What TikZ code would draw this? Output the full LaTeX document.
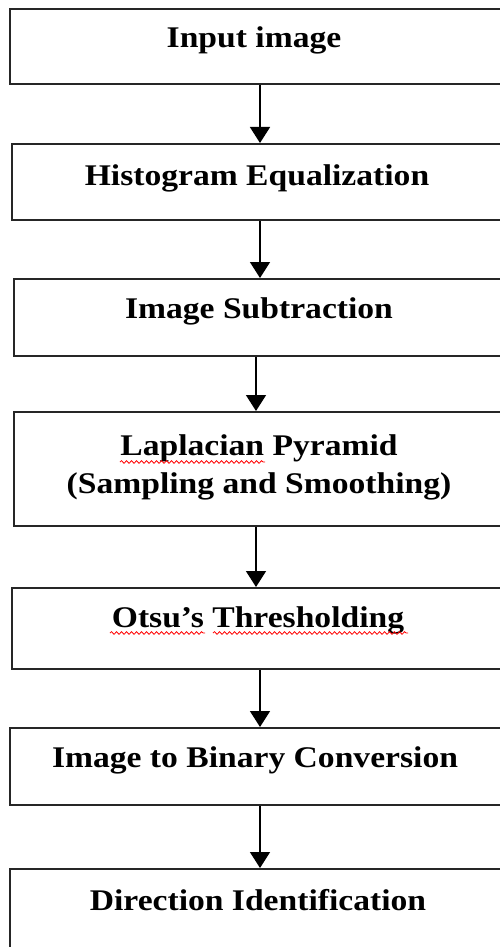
\documentclass[tikz,border=0pt]{standalone}
\usepackage{fontspec}
\setmainfont{Liberation Serif}
\usetikzlibrary{arrows.meta,decorations.pathmorphing}
\begin{document}
\begin{tikzpicture}[x=1pt,y=-1pt,
  stepbox/.style={draw=black!85,line width=2pt,rectangle,anchor=north west,inner sep=0pt},
  lbl/.style={anchor=base,inner sep=0pt,xscale=1.12,font=\fontsize{30}{38}\selectfont\bfseries,align=center},
  arr/.style={line width=1.5pt,-{Triangle[width=20pt,length=16pt]}},
  spell/.style={red,line width=0.8pt,decorate,decoration={snake,amplitude=1.3pt,segment length=5pt}}]
\useasboundingbox (0,0) rectangle (500,947);
\clip (0,0) rectangle (500,947);
\node[stepbox,minimum width=520pt,minimum height=75pt] (b1) at (9,8) {};
\node[stepbox,minimum width=520pt,minimum height=76pt] (b2) at (11,143) {};
\node[stepbox,minimum width=520pt,minimum height=77pt] (b3) at (13,278) {};
\node[stepbox,minimum width=520pt,minimum height=114pt] (b4) at (13,411) {};
\node[stepbox,minimum width=520pt,minimum height=81pt] (b5) at (11,587) {};
\node[stepbox,minimum width=520pt,minimum height=77pt] (b6) at (9,727) {};
\node[stepbox,minimum width=520pt,minimum height=100pt] (b7) at (9,868) {};
\node[lbl] (t1) at (254,48) {Input image};
\node[lbl] (t2) at (257,185) {Histogram Equalization};
\node[lbl] (t3) at (259,318) {Image Subtraction};
\node[lbl] (t4a) at (259,455) {Laplacian Pyramid};
\node[lbl] (t4b) at (259,493) {(Sampling and Smoothing)};
\node[lbl] (t5) at (258,627) {Otsu’s Thresholding};
\node[lbl] (t6) at (255,767) {Image to Binary Conversion};
\node[lbl] (t7) at (258,910) {Direction Identification};
\coordinate (ca) at (260,0);
\coordinate (cb) at (256,0);
\draw[arr] (b1.south -| ca) -- (b2.north -| ca);
\draw[arr] (b2.south -| ca) -- (b3.north -| ca);
\draw[arr] (b3.south -| cb) -- (b4.north -| cb);
\draw[arr] (b4.south -| cb) -- (b5.north -| cb);
\draw[arr] (b5.south -| ca) -- (b6.north -| ca);
\draw[arr] (b6.south -| ca) -- (b7.north -| ca);
\coordinate (w1a) at (120,462); \coordinate (w1b) at (265,462);
\coordinate (w2a) at (110,633); \coordinate (w2b) at (205,633);
\coordinate (w3a) at (213,633); \coordinate (w3b) at (408,633);
\draw[spell] (w1a) -- (w1b);
\draw[spell] (w2a) -- (w2b);
\draw[spell] (w3a) -- (w3b);
\end{tikzpicture}
\end{document}
